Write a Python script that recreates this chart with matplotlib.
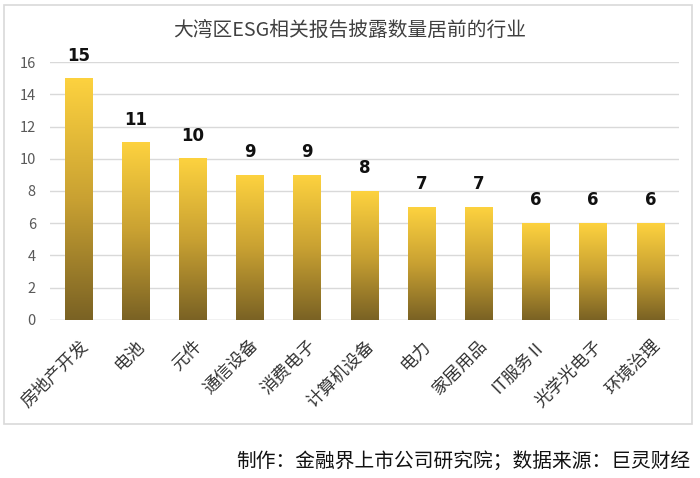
import matplotlib
matplotlib.use("Agg")
import matplotlib.pyplot as plt
import numpy as np
from matplotlib.colors import LinearSegmentedColormap
from matplotlib.patches import Rectangle

plt.rcParams['font.family'] = ['Noto Sans CJK SC', 'DejaVu Sans']

title = "大湾区ESG相关报告披露数量居前的行业"
categories = ["房地产开发", "电池", "元件", "通信设备", "消费电子", "计算机设备",
              "电力", "家居用品", "IT服务Ⅱ", "光学光电子", "环境治理"]
counts = [15, 11, 10, 9, 9, 8, 7, 7, 6, 6, 6]
yticks = [0, 2, 4, 6, 8, 10, 12, 14, 16]
footer = "制作：金融界上市公司研究院；数据来源：巨灵财经"

fig = plt.figure(figsize=(7, 4.78), dpi=100)
ax = fig.add_axes([0.071, 0.331, 0.899, 0.539])

# gradient for the bars, dark at the bottom, bright yellow at the top
cmap = LinearSegmentedColormap.from_list("gold", ["#7a6224", "#c9a132", "#fdd23f"])
grad = np.linspace(0, 1, 256).reshape(-1, 1)
width = 0.48
for i, v in enumerate(counts):
    ax.imshow(grad, cmap=cmap, origin="lower", aspect="auto",
              extent=(i - width / 2, i + width / 2, 0, v), zorder=2)
    ax.text(i, v + 0.85, str(v), ha="center", va="bottom", fontsize=12,
            fontweight="bold", color="#111111", family="DejaVu Sans")

ax.set_xlim(-0.5, len(categories) - 0.5)
ax.set_ylim(0, 16)
ax.set_yticks(yticks)
ax.yaxis.grid(True, color="#d9d9d9", linewidth=1)
ax.set_axisbelow(True)
for s in ax.spines.values():
    s.set_visible(False)
ax.tick_params(axis="y", length=0, labelsize=10.5, colors="#595959", pad=10)
ax.set_xticks(range(len(categories)))
ax.set_xticklabels(categories, rotation=45, ha="right", rotation_mode="anchor",
                   fontsize=12.5, color="#333333")
ax.tick_params(axis="x", length=0, pad=12)
ax.axhline(0, color="#d9d9d9", linewidth=1, zorder=1)

fig.text(0.5, 0.937, title, ha="center", va="center", fontsize=14.2, color="#404040")
fig.text(0.986, 0.033, footer, ha="right", va="center", fontsize=14.2, color="#111111")

fig.patches.append(Rectangle((0.005, 0.113), 0.984, 0.877, transform=fig.transFigure,
                             fill=False, edgecolor="#d9d9d9", linewidth=1.2))

fig.savefig("out.png", dpi=100)
